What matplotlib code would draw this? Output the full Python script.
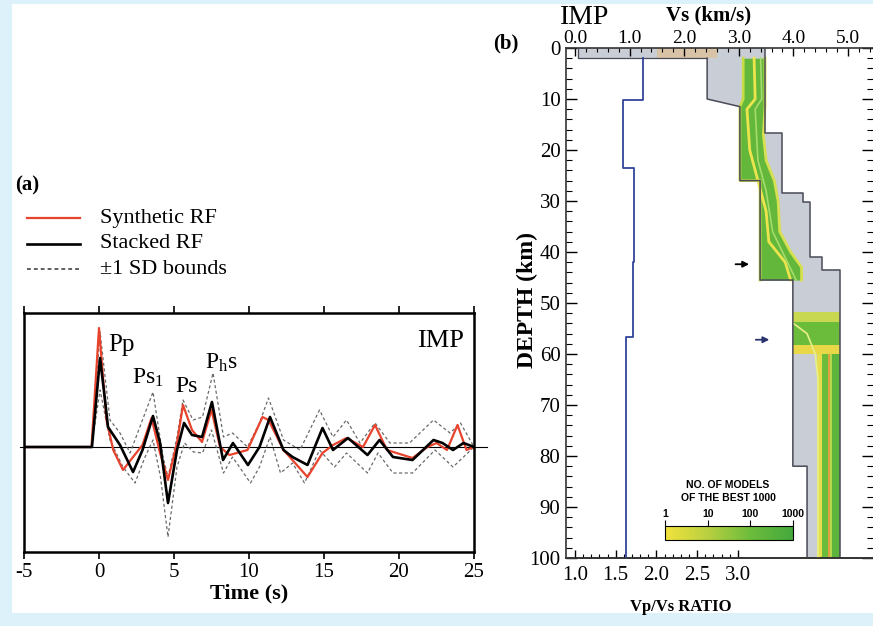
import numpy as np
import matplotlib
matplotlib.use('Agg')
import matplotlib.pyplot as plt
from matplotlib.colors import LinearSegmentedColormap, LogNorm
from matplotlib.patches import Rectangle
from matplotlib.lines import Line2D
from matplotlib.ticker import MultipleLocator, FixedLocator, NullLocator
import matplotlib.cm as cm

plt.rcParams['font.family'] = ['Liberation Serif', 'DejaVu Serif']
plt.rcParams['mathtext.fontset'] = 'stix'
plt.rcParams['axes.unicode_minus'] = False

# ---- panel (a): receiver functions ----
stk_t = [-5, -0.47, 0.07, 0.4, 0.6, 1.4, 2.27, 2.9, 3.6, 4.07, 4.6, 5.2, 5.67, 6.2, 6.87, 7.53,
         8.27, 8.93, 9.93, 10.7, 11.4, 12.3, 12.9, 13.9, 14.9, 15.6, 16.6, 17.9, 18.7, 19.6,
         20.9, 22.3, 22.9, 23.6, 24.3, 25]
stk_a = [0, 0, 0.89, 0.47, 0.2, 0.02, -0.25, -0.03, 0.31, 0.04, -0.56, -0.03, 0.24, 0.12, 0.10, 0.45,
         -0.13, 0.04, -0.18, 0, 0.30, -0.03, -0.10, -0.18, 0.19, -0.03, 0.09, -0.08, 0.07, -0.10,
         -0.13, 0.07, 0.04, -0.03, 0.04, 0]

syn_t = [-5, -0.5, 0, 0.5, 0.95, 1.6, 2.27, 2.9, 3.5, 4.07, 4.6, 5.2, 5.6, 6.2, 6.87, 7.5, 8.07,
         8.7, 9.9, 10.9, 11.3, 12.3, 13.9, 14.9, 15.6, 16.5, 17.6, 18.4, 19.2, 20.9, 21.9, 22.5,
         23.2, 23.9, 24.5, 25]
syn_a = [0, 0, 1.19, 0.27, -0.03, -0.23, -0.10, 0.02, 0.29, -0.06, -0.33, 0.04, 0.42, 0.17, 0.05,
         0.37, 0, -0.08, -0.03, 0.30, 0.27, -0.03, -0.30, -0.06, 0.02, 0.09, 0, 0.22, -0.03, -0.11,
         0, 0.04, -0.03, 0.22, -0.03, 0]

sd_up_t = [-5, -0.5, 0.07, 0.73, 1.4, 2.07, 3.6, 4.27, 4.6, 5.2, 5.6, 6.27, 6.9, 7.6, 8.3, 8.9,
           9.9, 10.7, 11.3, 12.3, 13.4, 14.7, 15.6, 16.5, 17.4, 18.4, 19.4, 20.7, 22.3, 23.4,
           24.1, 25]
sd_up_a = [0, 0, 1.15, 0.27, 0.14, -0.06, 0.55, -0.1, -0.3, 0.1, 0.47, 0.27, 0.3, 0.74, 0.1, 0.14,
           0.0, 0.24, 0.49, 0.07, -0.03, 0.37, 0.1, 0.27, 0.04, 0.24, 0.04, 0.04, 0.27, 0.14,
           0.24, 0]
sd_lo_t = [-5, -0.5, 0.07, 0.73, 1.6, 2.4, 3.07, 3.6, 4.1, 4.6, 5.2, 5.7, 6.3, 6.9, 7.5, 8.3, 8.9,
           10.1, 10.7, 11.4, 12.1, 12.9, 13.7, 14.7, 15.7, 16.5, 17.9, 18.6, 19.6, 20.9, 22.4,
           23.6, 24.3, 25]
sd_lo_a = [0, 0, 0.57, 0.07, -0.2, -0.36, -0.1, 0.07, -0.3, -0.9, -0.2, 0.04, -0.05, -0.06, 0.17,
           -0.26, -0.1, -0.36, -0.2, 0.1, -0.26, -0.16, -0.36, -0.03, -0.2, -0.06, -0.26, -0.06,
           -0.26, -0.26, -0.03, -0.2, -0.1, 0]

time_ticks = [-5, 0, 5, 10, 15, 20, 25]

# ---- panel (b): velocity model ----
env_min_d = [0, 2, 2, 10, 11.5, 26, 26, 45.5, 45.5, 82, 82, 100]
env_min_v = [0.05, 0.05, 2.42, 2.42, 3.02, 3.02, 3.39, 3.39, 3.99, 3.99, 4.25, 4.25]
env_max_d = [0, 16.7, 16.7, 28.4, 28.4, 30.2, 30.2, 41, 41, 43.5, 43.5, 100]
env_max_v = [3.48, 3.48, 3.79, 3.79, 4.18, 4.18, 4.30, 4.30, 4.52, 4.52, 4.85, 4.85]

band_d = [2, 10, 11.5, 17, 22, 26, 26, 30, 36, 40, 43, 45.5]
band_lo = [3.08, 3.08, 3.02, 3.02, 3.02, 3.02, 3.39, 3.39, 3.39, 3.39, 3.39, 3.39]
band_hi = [3.48, 3.48, 3.48, 3.45, 3.5, 3.65, 3.65, 3.72, 3.75, 3.95, 4.15, 4.15]
yel_d = [2, 10, 12, 20, 26, 32, 38, 42, 45.5]
yel_v = [3.28, 3.3, 3.15, 3.2, 3.35, 3.5, 3.55, 3.85, 3.95]
lgr_d = [2, 10, 12, 22, 28, 36, 40, 45.5]
lgr_v = [3.4, 3.42, 3.3, 3.35, 3.5, 3.62, 3.8, 4.05]
curve_d = [54, 56, 60, 65, 100]
curve_v = [4.0, 4.25, 4.4, 4.45, 4.45]

vpvs_d = [2, 10.2, 10.2, 23.5, 23.5, 42, 42, 56.7, 56.7, 100]
vpvs_r = [1.83, 1.83, 1.59, 1.59, 1.72, 1.72, 1.71, 1.71, 1.63, 1.63]

depth_ticks = list(range(0, 101, 10))
vs_ticks = [0, 1, 2, 3, 4, 5]
ratio_ticks = [1.0, 1.5, 2.0, 2.5, 3.0]
cbar_ticks = [1, 10, 100, 1000]

W, H = 873, 626


def box(x0, y0, x1, y1):
    return [x0 / W, 1 - y1 / H, (x1 - x0) / W, (y1 - y0) / H]


def ft(x, y, s, **kw):
    return fig.text(x / W, 1 - y / H, s, **kw)


fig = plt.figure(figsize=(8.73, 6.26), dpi=100, facecolor='#dcf1fa')
fig.patches.append(Rectangle((12 / W, 13 / H), 861 / W, 609 / H, transform=fig.transFigure,
                             facecolor='white', edgecolor='none', zorder=-10))

# panel (a)
axa = fig.add_axes(box(24, 313, 474, 552))
axa.plot(sd_up_t, sd_up_a, color='#6a6a6a', lw=0.9, ls=(0, (2.5, 2)))
axa.plot(sd_lo_t, sd_lo_a, color='#6a6a6a', lw=0.9, ls=(0, (2.5, 2)))
axa.plot(syn_t, syn_a, color='#e8432d', lw=1.6)
axa.plot(stk_t, stk_a, color='k', lw=1.9)
axa.plot([-5.3, 25.9], [0, 0], color='k', lw=0.8, clip_on=False, zorder=1)
axa.set_xlim(-5, 25)
axa.set_ylim(-1.05, 1.34)
axa.set_yticks([])
axa.set_xticks(time_ticks)
axa.tick_params(axis='x', top=True, direction='out', length=5, width=1.2, labelsize=15, pad=3)
for s in axa.spines.values():
    s.set_linewidth(1.8)
axa.set_xlabel('Time (s)', fontsize=16, fontweight='bold', labelpad=1)

axa.text(0.6, 1.02, 'Pp', fontsize=18, va='center')
axa.text(2.2, 0.69, r'Ps$_\mathregular{1}$', fontsize=17, va='center')
axa.text(5.07, 0.60, 'Ps', fontsize=17, va='center')
axa.text(7.07, 0.84, r'P$_\mathregular{h}$s', fontsize=17, va='center')
axa.text(24.3, 1.06, 'IMP', fontsize=19, va='center', ha='right')

# legend of (a)
ft(15, 185, '(a)', fontsize=15, fontweight='bold', va='center')
leg = [('#e8432d', '-', 1.6, 218, 'Synthetic RF'),
       ('k', '-', 1.9, 244, 'Stacked RF'),
       ('#333333', (0, (2.5, 2)), 1.1, 269, '±1 SD bounds')]
for c, ls, lw, y, lab in leg:
    fig.add_artist(Line2D([27 / W, 80 / W], [1 - y / H] * 2, color=c, ls=ls, lw=lw))
    ft(100, y, lab, fontsize=16, va='center')

# panel (b)
axb = fig.add_axes(box(566, 48, 873, 558))
axv = axb.twiny()
axb.set_xlim(-0.165, 5.458)
axb.set_ylim(100, 0)
env_x = np.concatenate([env_min_v, env_max_v[::-1]])
env_y = np.concatenate([env_min_d, env_max_d[::-1]])
axb.fill(env_x, env_y, color='#c9cdd6', lw=0, zorder=1)
axb.fill_betweenx([0, 2], [1.5, 1.5], [2.6, 2.6], color='#d9c3a6', lw=0, zorder=1.5)
axb.fill_betweenx(band_d, band_lo, band_hi, color='#63b83c', lw=0, zorder=2)
axb.plot(band_lo, band_d, color='#c8dc48', lw=2, zorder=2.5)
axb.plot(band_hi, band_d, color='#d6e050', lw=2, zorder=2.5)
axb.plot(yel_v, yel_d, color='#ece44c', lw=2, zorder=2.6)
axb.plot(lgr_v, lgr_d, color='#a6dc6a', lw=1.2, zorder=2.7)

deep = [(51.8, 53.8, 3.99, 4.85, '#c8d850'),
        (53.8, 58.3, 3.99, 4.85, '#6cbc3c'),
        (58.3, 60.0, 3.99, 4.85, '#e8d848'),
        (60.0, 100, 4.43, 4.52, '#e6dc4c'),
        (60.0, 100, 4.52, 4.63, '#6cbc3c'),
        (60.0, 100, 4.63, 4.67, '#e0a040'),
        (60.0, 100, 4.67, 4.71, '#b6d650'),
        (60.0, 100, 4.71, 4.85, '#5cb43c')]
for d0, d1, v0, v1, c in deep:
    axb.fill_betweenx([d0, d1], [v0, v0], [v1, v1], color=c, lw=0, zorder=2)
axb.plot(curve_v, curve_d, color='#e8f088', lw=1.2, zorder=2.8)
axb.plot(env_min_v[2:], env_min_d[2:], color='#4a4a58', lw=1.1, zorder=3)
axb.plot(env_min_v[:3], env_min_d[:3], color='#4a4a58', lw=0.9, zorder=3)
axb.plot(env_max_v, env_max_d, color='#4a4a58', lw=1.1, zorder=3)

axb.annotate('', xy=(3.24, 42.4), xytext=(2.89, 42.4),
             arrowprops=dict(arrowstyle='-|>', color='k', lw=1.3, mutation_scale=9))
axb.annotate('', xy=(3.61, 57.2), xytext=(3.26, 57.2),
             arrowprops=dict(arrowstyle='-|>', color='#2a3570', lw=1.3, mutation_scale=9))

axb.xaxis.tick_top()
axb.xaxis.set_label_position('top')
axb.set_xticks(vs_ticks)
axb.set_xticklabels(['%.1f' % v for v in vs_ticks])
axb.xaxis.set_minor_locator(MultipleLocator(0.2))
axb.tick_params(axis='x', which='major', direction='in', length=6, width=1, labelsize=14, pad=1)
axb.tick_params(axis='x', which='minor', direction='in', length=3, width=0.8)
axb.set_yticks(depth_ticks)
axb.yaxis.set_minor_locator(MultipleLocator(2))
axb.tick_params(axis='y', which='both', direction='in', left=True, right=True)
axb.tick_params(axis='y', which='major', length=8, width=1, labelsize=15, pad=4)
axb.tick_params(axis='y', which='minor', length=4, width=0.8)
axb.spines['right'].set_visible(False)
for s in ['top', 'bottom', 'left']:
    axb.spines[s].set_linewidth(1.2)
    axb.spines[s].set_color('#333333')

axv.set_xlim(0.89, 4.66)
axv.plot(vpvs_r, vpvs_d, color='#34449a', lw=1.3, zorder=4)
axv.xaxis.tick_bottom()
axv.xaxis.set_label_position('bottom')
axv.xaxis.set_major_locator(FixedLocator(ratio_ticks))
axv.set_xticklabels(['%.1f' % r for r in ratio_ticks])
axv.xaxis.set_minor_locator(FixedLocator([1.0 + 0.1 * i for i in range(20)]))
axv.tick_params(axis='x', which='major', direction='in', length=6, width=1, labelsize=15, pad=6)
axv.tick_params(axis='x', which='minor', direction='in', length=3, width=0.8)
for s in ['right', 'top', 'left']:
    axv.spines[s].set_visible(False)
axv.spines['bottom'].set_linewidth(1.2)
axv.spines['bottom'].set_color('#333333')

ft(506, 43, '(b)', fontsize=15, fontweight='bold', ha='center', va='center')
ft(585, 17, 'IMP', fontsize=20, ha='center', va='center')
ft(709, 15, 'Vs (km/s)', fontsize=15, fontweight='bold', ha='center', va='center')
ft(527, 300, 'DEPTH (km)', fontsize=17, fontweight='bold', ha='center', va='center', rotation=90)
ft(681, 607, 'Vp/Vs RATIO', fontsize=12, fontweight='bold', ha='center', va='center')

# colour scale inset
cmap = LinearSegmentedColormap.from_list('nmod', ['#f2e23c', '#b8d040', '#6cbc3c', '#44a83c'])
cax = fig.add_axes(box(665, 526, 793, 540))
cb = fig.colorbar(cm.ScalarMappable(norm=LogNorm(1, 1000), cmap=cmap), cax=cax,
                  orientation='horizontal')
cax.xaxis.set_ticks_position('top')
cax.xaxis.set_minor_locator(NullLocator())
cb.set_ticks(cbar_ticks)
cb.set_ticklabels([str(v) for v in cbar_ticks])
cax.tick_params(axis='x', length=4, width=0.8, pad=1, labelsize=7.5)
for lab in cax.get_xticklabels():
    lab.set_fontfamily('Liberation Sans')
    lab.set_fontweight('bold')
cb.outline.set_linewidth(0.8)
ft(728, 485, 'NO. OF MODELS', fontsize=7.5, fontweight='bold', family='Liberation Sans',
   ha='center', va='center')
ft(728, 498, 'OF THE BEST 1000', fontsize=7.5, fontweight='bold', family='Liberation Sans',
   ha='center', va='center')

plt.savefig('out.png', dpi=100, facecolor=fig.get_facecolor())
